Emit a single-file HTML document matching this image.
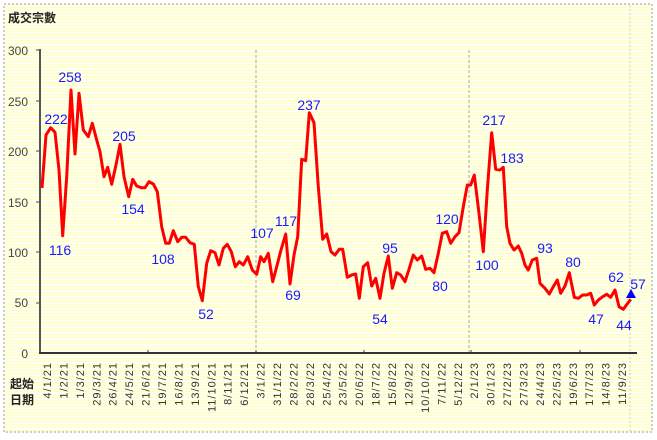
<!DOCTYPE html>
<html><head><meta charset="utf-8"><style>
html,body{margin:0;padding:0;background:#fff;}
svg{display:block;}
text{font-family:"Liberation Sans","Noto Sans CJK TC",sans-serif;}
</style></head><body>
<svg width="657" height="440" viewBox="0 0 657 440" xmlns="http://www.w3.org/2000/svg">
<defs>
<pattern id="st" width="4" height="3" patternUnits="userSpaceOnUse">
<rect width="4" height="3" fill="#fffff0"/><rect y="1" width="4" height="1" fill="#ffffc0"/>
</pattern>
</defs>
<rect width="657" height="440" fill="#fff"/>
<rect x="4" y="4" width="648" height="428" fill="url(#st)" stroke="#999" stroke-dasharray="2,2"/>
<text x="8" y="22" font-size="12" font-weight="bold" fill="#222">成交宗數</text>
<g stroke="#aaa" stroke-dasharray="3,2" stroke-width="1">
<line x1="256" y1="50" x2="256" y2="353"/><line x1="469" y1="50" x2="469" y2="353"/>
</g>
<line x1="630" y1="5" x2="630" y2="432" stroke="#ccc" stroke-dasharray="2,2"/>
<g font-size="12" fill="#444" text-anchor="end">
<text x="28" y="55">300</text><text x="28" y="106">250</text><text x="28" y="156">200</text>
<text x="28" y="207">150</text><text x="28" y="257">100</text><text x="28" y="307">50</text><text x="28" y="358">0</text>
</g>
<g stroke="#444" stroke-width="1">
<line x1="36" y1="50" x2="40" y2="50"/><line x1="36" y1="101" x2="40" y2="101"/><line x1="36" y1="151" x2="40" y2="151"/>
<line x1="36" y1="202" x2="40" y2="202"/><line x1="36" y1="252" x2="40" y2="252"/><line x1="36" y1="303" x2="40" y2="303"/>
<line x1="148" y1="350" x2="148" y2="353"/><line x1="256" y1="350" x2="256" y2="353"/><line x1="364" y1="350" x2="364" y2="353"/><line x1="471" y1="350" x2="471" y2="353"/><line x1="580" y1="350" x2="580" y2="353"/>
</g>
<line x1="40" y1="49" x2="40" y2="354" stroke="#555" stroke-width="2"/>
<line x1="39" y1="353" x2="637" y2="353" stroke="#333" stroke-width="2"/>
<polyline fill="none" stroke="#ff0000" stroke-width="3" stroke-linejoin="round" points="42,188 46,135 50.7,127.7 55,132.3 59,170 62.7,235.7 66.7,176.7 71,90 75,154 79,93.3 83.3,130 88.3,136.7 92.3,123.3 96.7,140 100,151.7 104,176.7 107.7,167.3 111.7,184.3 116,165 120,144.3 124,176.7 128.7,196.7 132.7,179.3 136.7,186 141.3,187.7 145,187.7 149,181.7 153.3,184 157.3,191.7 161.7,226.7 165.7,243.3 169.3,243.3 173.3,230.7 177.7,241.7 181.7,237.3 185.7,237.3 190,242.7 194.3,244.3 198.3,286.7 202.3,300.7 206.7,263.3 210.7,250.7 215,252.7 219,265 223.3,248.3 227.3,244.3 231.3,251.7 235.3,266.7 239.3,261.7 243.3,265 247.7,256.7 252.3,270 256.7,274.3 260.7,256.7 264,261.7 268.3,253.3 272.7,281.7 276.7,266.7 281,250 285.7,234 290,284 294,255 297.7,236.7 301.7,159.3 305.7,160.7 309.3,112.7 314,122.7 318.3,186.7 322.7,239.3 326.7,234 331,251.7 335,255 339.3,249.3 342.7,249.3 347.3,277.3 351.7,275 355.7,274 359.3,298.3 363.3,266.7 367.7,262.7 371.7,286 375.7,278.3 380,298.3 384,273.3 388.3,256 392.3,288.3 396.7,272.7 400.7,275 405,281.7 409,269.3 413.3,255 417.3,260 421.7,256 425.7,269.3 430,268.3 434,272.7 438.3,253.3 442.3,233.3 446.7,231.7 450.7,243.3 455,236.7 459,232.7 463.3,206.7 467.3,185 470.7,185 474.3,175 479,213.3 483.3,251.7 487.3,190 491.7,132.7 495.7,169.3 500,170 503.3,167.3 506.7,226.7 510,243.3 514,250 518.3,246 521.7,253.3 525,265 528.3,270 532.3,260 536.7,258.3 540,283.3 545,288.3 549.3,294 553.3,286.7 557.3,280 560.7,293.3 565,286 569.3,272.7 574.3,297.3 578.3,298.3 582.7,295 586.7,295 590.7,293.3 594.3,305 598.3,300 602.7,296.7 606.7,294.3 610.7,297.3 615,290 619,306.7 623.3,309.3 627.7,303.3 630.7,299.3"/>
<polygon points="631,289 626,298 636,298" fill="#0000ff"/>
<g font-size="14" fill="#1a1aff" text-anchor="middle">
<text x="56" y="124">222</text><text x="70" y="82">258</text><text x="60" y="255">116</text>
<text x="124" y="141">205</text><text x="133" y="214">154</text><text x="163" y="264">108</text>
<text x="206" y="319">52</text><text x="262" y="238">107</text><text x="286" y="226">117</text>
<text x="293" y="300">69</text><text x="309" y="110">237</text><text x="390" y="253">95</text>
<text x="380" y="324">54</text><text x="440" y="291">80</text><text x="447" y="224">120</text>
<text x="487" y="270">100</text><text x="494" y="125">217</text><text x="512" y="163">183</text>
<text x="545" y="253">93</text><text x="573" y="267">80</text><text x="596" y="324">47</text>
<text x="616" y="282">62</text><text x="624" y="330">44</text><text x="638" y="289">57</text>
</g>
<g font-size="12" fill="#222" text-anchor="middle" font-weight="bold">
<text x="22" y="388">起始</text><text x="22" y="404">日期</text>
</g>
<g font-size="11" fill="#333" text-anchor="end" letter-spacing="1">
<text transform="translate(51,362) rotate(-90)">4/1/21</text>
<text transform="translate(67.4,362) rotate(-90)">1/2/21</text>
<text transform="translate(83.9,362) rotate(-90)">1/3/21</text>
<text transform="translate(100.3,362) rotate(-90)">29/3/21</text>
<text transform="translate(116.7,362) rotate(-90)">26/4/21</text>
<text transform="translate(133.2,362) rotate(-90)">24/5/21</text>
<text transform="translate(149.6,362) rotate(-90)">21/6/21</text>
<text transform="translate(166,362) rotate(-90)">19/7/21</text>
<text transform="translate(182.4,362) rotate(-90)">16/8/21</text>
<text transform="translate(198.9,362) rotate(-90)">13/9/21</text>
<text transform="translate(215.3,362) rotate(-90)">11/10/21</text>
<text transform="translate(231.7,362) rotate(-90)">8/11/21</text>
<text transform="translate(248.2,362) rotate(-90)">6/12/21</text>
<text transform="translate(264.6,362) rotate(-90)">3/1/22</text>
<text transform="translate(281,362) rotate(-90)">31/1/22</text>
<text transform="translate(297.5,362) rotate(-90)">28/2/22</text>
<text transform="translate(313.9,362) rotate(-90)">28/3/22</text>
<text transform="translate(330.3,362) rotate(-90)">25/4/22</text>
<text transform="translate(346.7,362) rotate(-90)">23/5/22</text>
<text transform="translate(363.2,362) rotate(-90)">20/6/22</text>
<text transform="translate(379.6,362) rotate(-90)">18/7/22</text>
<text transform="translate(396,362) rotate(-90)">15/8/22</text>
<text transform="translate(412.5,362) rotate(-90)">12/9/22</text>
<text transform="translate(428.9,362) rotate(-90)">10/10/22</text>
<text transform="translate(445.3,362) rotate(-90)">7/11/22</text>
<text transform="translate(461.8,362) rotate(-90)">5/12/22</text>
<text transform="translate(478.2,362) rotate(-90)">2/1/23</text>
<text transform="translate(494.6,362) rotate(-90)">30/1/23</text>
<text transform="translate(511,362) rotate(-90)">27/2/23</text>
<text transform="translate(527.5,362) rotate(-90)">27/3/23</text>
<text transform="translate(543.9,362) rotate(-90)">24/4/23</text>
<text transform="translate(560.3,362) rotate(-90)">22/5/23</text>
<text transform="translate(576.8,362) rotate(-90)">19/6/23</text>
<text transform="translate(593.2,362) rotate(-90)">17/7/23</text>
<text transform="translate(609.6,362) rotate(-90)">14/8/23</text>
<text transform="translate(626,362) rotate(-90)">11/9/23</text>
</g>
</svg>
</body></html>
